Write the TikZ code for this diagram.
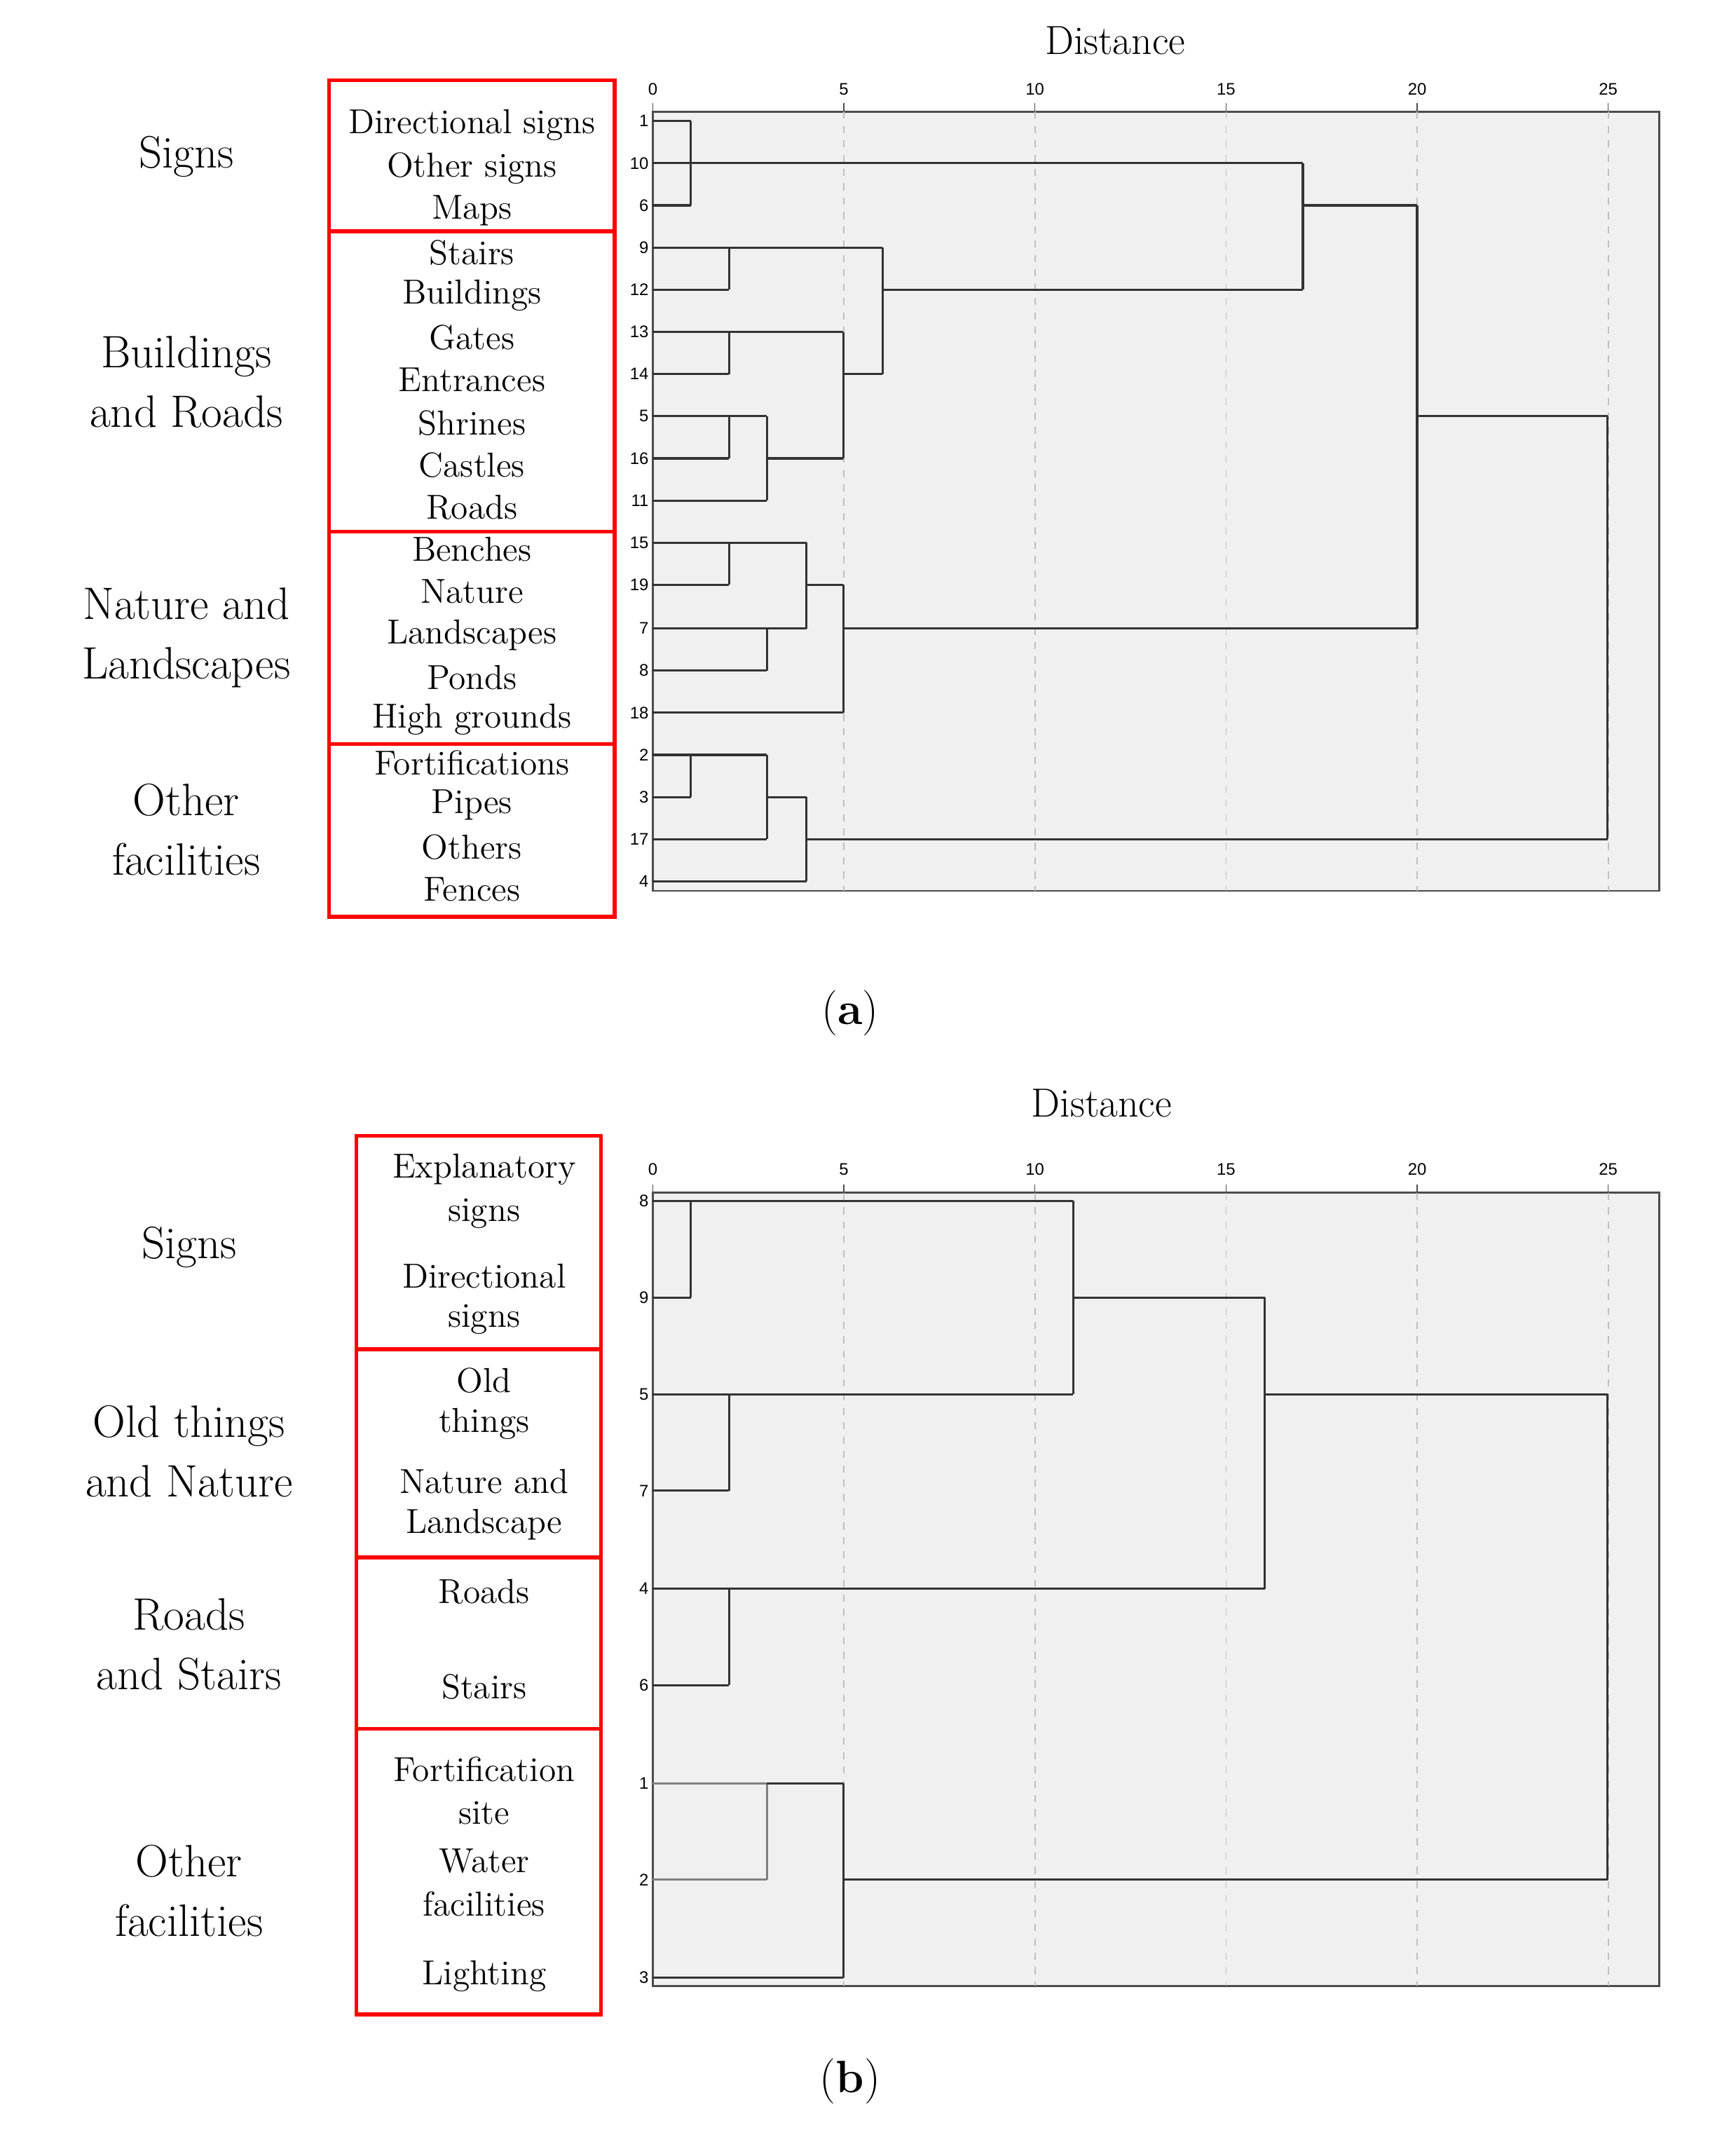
\documentclass[tikz,border=0pt]{standalone}
\usepackage{fontspec}
\newfontfamily\tick{Liberation Sans}
\begin{document}
\begin{tikzpicture}[x=0.02cm,y=-0.02cm,
 cat/.style={align=center,font=\fontsize{19}{25}\selectfont},
 item/.style={font=\fontsize{14.5}{17}\selectfont,inner sep=0pt},
 tk/.style={font=\tick\fontsize{7}{8}\selectfont,inner sep=1pt},
 rbox/.style={draw=red,line width=1.6pt},
 frame/.style={draw=black!70,fill=black!6,line width=0.8pt},
 grid/.style={draw=black!25,dashed,line width=0.5pt},
 dl/.style={draw=black!80,line width=0.9pt}]
\useasboundingbox (0,0) rectangle (1276,1580);
% ---------- panel a
\path[frame] (480,82) rectangle (1220,655);
\foreach \d in {5,10,15,20,25}{\draw[grid] ({480+28.1*\d},82) -- ({480+28.1*\d},655);}
\foreach \d in {0,5,10,15,20,25}{\node[tk,anchor=south] (ta\d) at ({480+28.1*\d},72) {\d};
 \draw[black!70] ({480+28.1*\d},76) -- ({480+28.1*\d},82);}
\node[font=\fontsize{17}{20}\selectfont] (da) at (820,30) {Distance};
\foreach \n/\y in {1/89,10/120,6/151,9/182,12/213,13/244,14/275,5/306,16/337,11/368,15/399,19/430,7/462,8/493,18/524,2/555,3/586,17/617,4/648}
 {\node[tk,anchor=east] (la\n) at (479,\y) {\n};}
\draw[dl] (480,89)--(508,89) (480,120)--(508,120) (480,151)--(508,151) (508,89)--(508,151) (508,120)--(958,120);
\draw[dl] (480,182)--(536,182) (480,213)--(536,213) (536,182)--(536,213) (536,182)--(649,182);
\draw[dl] (480,244)--(536,244) (480,275)--(536,275) (536,244)--(536,275) (536,244)--(620,244);
\draw[dl] (480,306)--(536,306) (480,337)--(536,337) (536,306)--(536,337) (536,306)--(564,306);
\draw[dl] (480,368)--(564,368) (564,306)--(564,368) (564,337)--(620,337);
\draw[dl] (620,244)--(620,337) (620,275)--(649,275) (649,182)--(649,275) (649,213)--(958,213);
\draw[dl] (958,120)--(958,213) (958,151)--(1042,151) (1042,151)--(1042,462) (1042,306)--(1182,306) (1182,306)--(1182,617);
\draw[dl] (480,399)--(536,399) (480,430)--(536,430) (536,399)--(536,430) (536,399)--(593,399);
\draw[dl] (480,462)--(564,462) (480,493)--(564,493) (564,462)--(564,493) (564,462)--(593,462);
\draw[dl] (593,399)--(593,462) (593,430)--(620,430) (480,524)--(620,524) (620,430)--(620,524) (620,462)--(1042,462);
\draw[dl] (480,555)--(508,555) (480,586)--(508,586) (508,555)--(508,586) (508,555)--(564,555);
\draw[dl] (480,617)--(564,617) (564,555)--(564,617) (564,586)--(593,586) (480,648)--(593,648) (593,586)--(593,648) (593,617)--(1182,617);
\path[rbox] (242,59) rectangle (452,170) (242,170) rectangle (452,391) (242,391) rectangle (452,547) (242,547) rectangle (452,674);
\foreach \t/\y [count=\i] in {Directional signs/92,Other signs/124,Maps/155,Stairs/186,Buildings/217,Gates/248,Entrances/279,Shrines/311,Castles/342,Roads/373,Benches/404,Nature/435,Landscapes/467,Ponds/498,High grounds/529,Fortifications/561,Pipes/592,Others/623,Fences/654}
 {\node[item] (ia\i) at (347,\y) {\t};}
\node[cat] (ca1) at (137,115) {Signs};
\node[cat] (ca2) at (137,281) {Buildings\\and Roads};
\node[cat] (ca3) at (137,469) {Nature and\\Landscapes};
\node[cat] (ca4) at (137,610) {Other\\facilities};
\node[font=\fontsize{19}{22}\selectfont] (pa) at (625,745) {(\textbf{a})};
% ---------- panel b
\path[frame] (480,877) rectangle (1220,1460);
\foreach \d in {5,10,15,20,25}{\draw[grid] ({480+28.1*\d},877) -- ({480+28.1*\d},1460);}
\foreach \d in {0,5,10,15,20,25}{\node[tk,anchor=south] (tb\d) at ({480+28.1*\d},866) {\d};
 \draw[black!70] ({480+28.1*\d},871) -- ({480+28.1*\d},877);}
\node[font=\fontsize{17}{20}\selectfont] (db) at (810,811) {Distance};
\foreach \n/\y in {8/883,9/954,5/1025,7/1096,4/1168,6/1239,1/1311,2/1382,3/1454}
 {\node[tk,anchor=east] (lb\n) at (479,\y) {\n};}
\draw[dl] (480,883)--(508,883) (480,954)--(508,954) (508,883)--(508,954) (508,883)--(789,883);
\draw[dl] (480,1025)--(536,1025) (480,1096)--(536,1096) (536,1025)--(536,1096) (536,1025)--(789,1025);
\draw[dl] (789,883)--(789,1025) (789,954)--(930,954);
\draw[dl] (480,1168)--(536,1168) (480,1239)--(536,1239) (536,1168)--(536,1239) (536,1168)--(930,1168);
\draw[dl] (930,954)--(930,1168) (930,1025)--(1182,1025) (1182,1025)--(1182,1382);
\draw[draw=black!50,line width=0.9pt] (480,1311)--(564,1311) (480,1382)--(564,1382) (564,1311)--(564,1382);
\draw[dl] (564,1311)--(620,1311) (480,1454)--(620,1454) (620,1311)--(620,1454) (620,1382)--(1182,1382);
\path[rbox] (262,835) rectangle (442,992) (262,992) rectangle (442,1145) (262,1145) rectangle (442,1271) (262,1271) rectangle (442,1481);
\foreach \t/\y [count=\i] in {Explanatory/860,signs/892,Directional/938,signs/970,Old/1015,things/1047,Nature and/1089,Landscape/1121,Roads/1170,Stairs/1240,Fortification/1301,site/1333,Water/1368,facilities/1400,Lighting/1453}
 {\node[item] (ib\i) at (356,\y) {\t};}
\node[cat] (cb1) at (139,917) {Signs};
\node[cat] (cb2) at (139,1067) {Old things\\and Nature};
\node[cat] (cb3) at (139,1209) {Roads\\and Stairs};
\node[cat] (cb4) at (139,1390) {Other\\facilities};
\node[font=\fontsize{19}{22}\selectfont] (pb) at (625,1530) {(\textbf{b})};
\end{tikzpicture}
\end{document}
